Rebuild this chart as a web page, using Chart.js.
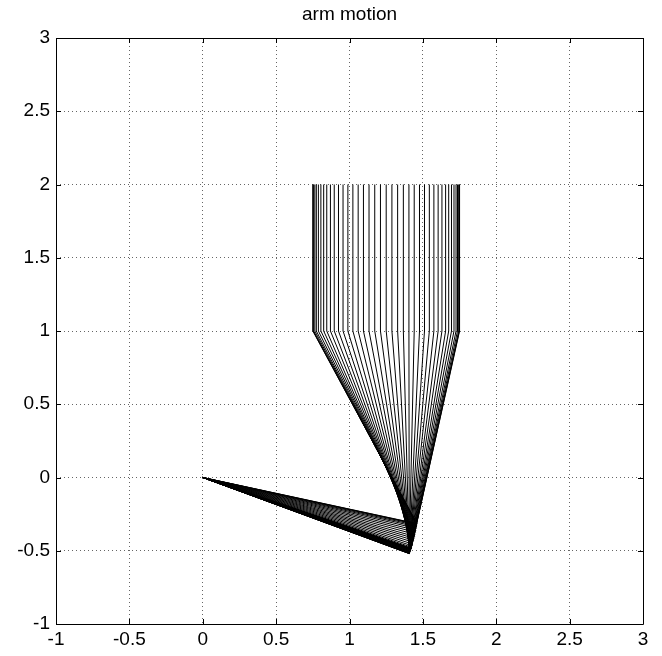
<!DOCTYPE html>
<html>
<head>
<meta charset="utf-8">
<script src="https://cdn.jsdelivr.net/npm/chart.js@4/dist/chart.umd.min.js"></script>
<style>
  html, body { margin: 0; padding: 0; background: #fff; }
  canvas { display: block; }
</style>
</head>
<body>
<canvas id="c" width="662" height="656"></canvas>
<script>
// ---- data ----
const titleText = "arm motion";
const baseX = 0;
const baseY = 0;
const wristY = 1;
const tipY = 2;
const wristX = [0.750, 0.752, 0.756, 0.764, 0.774, 0.788, 0.805, 0.824, 0.845, 0.870,
                0.896, 0.925, 0.956, 0.989, 1.023, 1.059, 1.095, 1.133, 1.172, 1.211,
                1.250, 1.289, 1.328, 1.367, 1.405, 1.441, 1.477, 1.511, 1.544, 1.575,
                1.604, 1.630, 1.655, 1.676, 1.695, 1.712, 1.726, 1.736, 1.744, 1.748, 1.750];
const elbowX = [1.460, 1.460, 1.459, 1.458, 1.457, 1.455, 1.453, 1.450, 1.447, 1.444,
                1.441, 1.437, 1.433, 1.430, 1.426, 1.423, 1.420, 1.417, 1.414, 1.412,
                1.410, 1.409, 1.408, 1.407, 1.407, 1.407, 1.408, 1.409, 1.409, 1.410,
                1.412, 1.413, 1.414, 1.415, 1.416, 1.418, 1.418, 1.419, 1.419, 1.420, 1.420];
const elbowY = [-0.315, -0.317, -0.321, -0.328, -0.337, -0.348, -0.361, -0.374, -0.388, -0.402,
                -0.415, -0.428, -0.441, -0.454, -0.466, -0.476, -0.484, -0.493, -0.500, -0.506,
                -0.512, -0.515, -0.517, -0.519, -0.519, -0.519, -0.518, -0.516, -0.514, -0.511,
                -0.507, -0.504, -0.500, -0.497, -0.494, -0.491, -0.488, -0.486, -0.485, -0.484, -0.484];
const xTicks = [-1, -0.5, 0, 0.5, 1, 1.5, 2, 2.5, 3];
const yTicks = [-1, -0.5, 0, 0.5, 1, 1.5, 2, 2.5, 3];
const xTickLabels = ["-1", "-0.5", "0", "0.5", "1", "1.5", "2", "2.5", "3"];
const yTickLabels = ["-1", "-0.5", "0", "0.5", "1", "1.5", "2", "2.5", "3"];

// ---- build datasets ----
const datasets = wristX.map((wx, i) => ({
  data: [
    { x: baseX, y: baseY },
    { x: elbowX[i], y: elbowY[i] },
    { x: wx, y: wristY },
    { x: wx, y: tipY }
  ],
  showLine: true,
  borderColor: '#000',
  borderWidth: 1,
  pointRadius: 0,
  pointHoverRadius: 0,
  fill: false,
  tension: 0
}));

const FONT = "'Liberation Sans', Arial, Helvetica, sans-serif";

const framePlugin = {
  id: 'frame',
  afterDraw(chart) {
    const { ctx, chartArea: a, scales } = chart;
    ctx.save();
    // title centred over the plot area
    ctx.fillStyle = '#000';
    ctx.font = "19px " + FONT;
    ctx.textAlign = 'center';
    ctx.textBaseline = 'middle';
    ctx.fillText(titleText, (a.left + a.right) / 2, 15);
    // axes box
    ctx.strokeStyle = '#000';
    ctx.lineWidth = 1;
    ctx.beginPath();
    ctx.rect(Math.round(a.left) + 0.5, Math.round(a.top) + 0.5,
             Math.round(a.right - a.left), Math.round(a.bottom - a.top));
    ctx.stroke();
    // inward tick marks
    const tl = 5;
    ctx.beginPath();
    xTicks.forEach(v => {
      const px = Math.round(scales.x.getPixelForValue(v)) + 0.5;
      ctx.moveTo(px, a.bottom); ctx.lineTo(px, a.bottom - tl);
      ctx.moveTo(px, a.top); ctx.lineTo(px, a.top + tl);
    });
    yTicks.forEach(v => {
      const py = Math.round(scales.y.getPixelForValue(v)) + 0.5;
      ctx.moveTo(a.left, py); ctx.lineTo(a.left + tl, py);
      ctx.moveTo(a.right, py); ctx.lineTo(a.right - tl, py);
    });
    ctx.stroke();
    ctx.restore();
  }
};

new Chart(document.getElementById('c'), {
  type: 'scatter',
  data: { datasets },
  options: {
    responsive: false,
    animation: false,
    devicePixelRatio: 1,
    layout: { padding: { left: 0, right: 19, top: 38, bottom: 0 } },
    plugins: {
      legend: { display: false },
      tooltip: { enabled: false },
      title: { display: false }
    },
    scales: {
      x: {
        type: 'linear',
        min: -1, max: 3,
        afterBuildTicks: s => { s.ticks = xTicks.map(v => ({ value: v })); },
        afterFit: s => { s.height = 32; },
        ticks: {
          color: '#000',
          padding: 4,
          font: { family: FONT, size: 19 },
          maxRotation: 0,
          autoSkip: false,
          callback: (v) => xTickLabels[xTicks.indexOf(v)]
        },
        grid: { color: 'rgba(0,0,0,0.6)', lineWidth: 1, drawTicks: false },
        border: { display: false, dash: [1, 3] }
      },
      y: {
        type: 'linear',
        min: -1, max: 3,
        afterBuildTicks: s => { s.ticks = yTicks.map(v => ({ value: v })); },
        afterFit: s => { s.width = 56; },
        ticks: {
          color: '#000',
          padding: 6,
          font: { family: FONT, size: 19 },
          autoSkip: false,
          callback: (v) => yTickLabels[yTicks.indexOf(v)]
        },
        grid: { color: 'rgba(0,0,0,0.6)', lineWidth: 1, drawTicks: false },
        border: { display: false, dash: [1, 3] }
      }
    }
  },
  plugins: [framePlugin]
});
</script>
</body>
</html>
